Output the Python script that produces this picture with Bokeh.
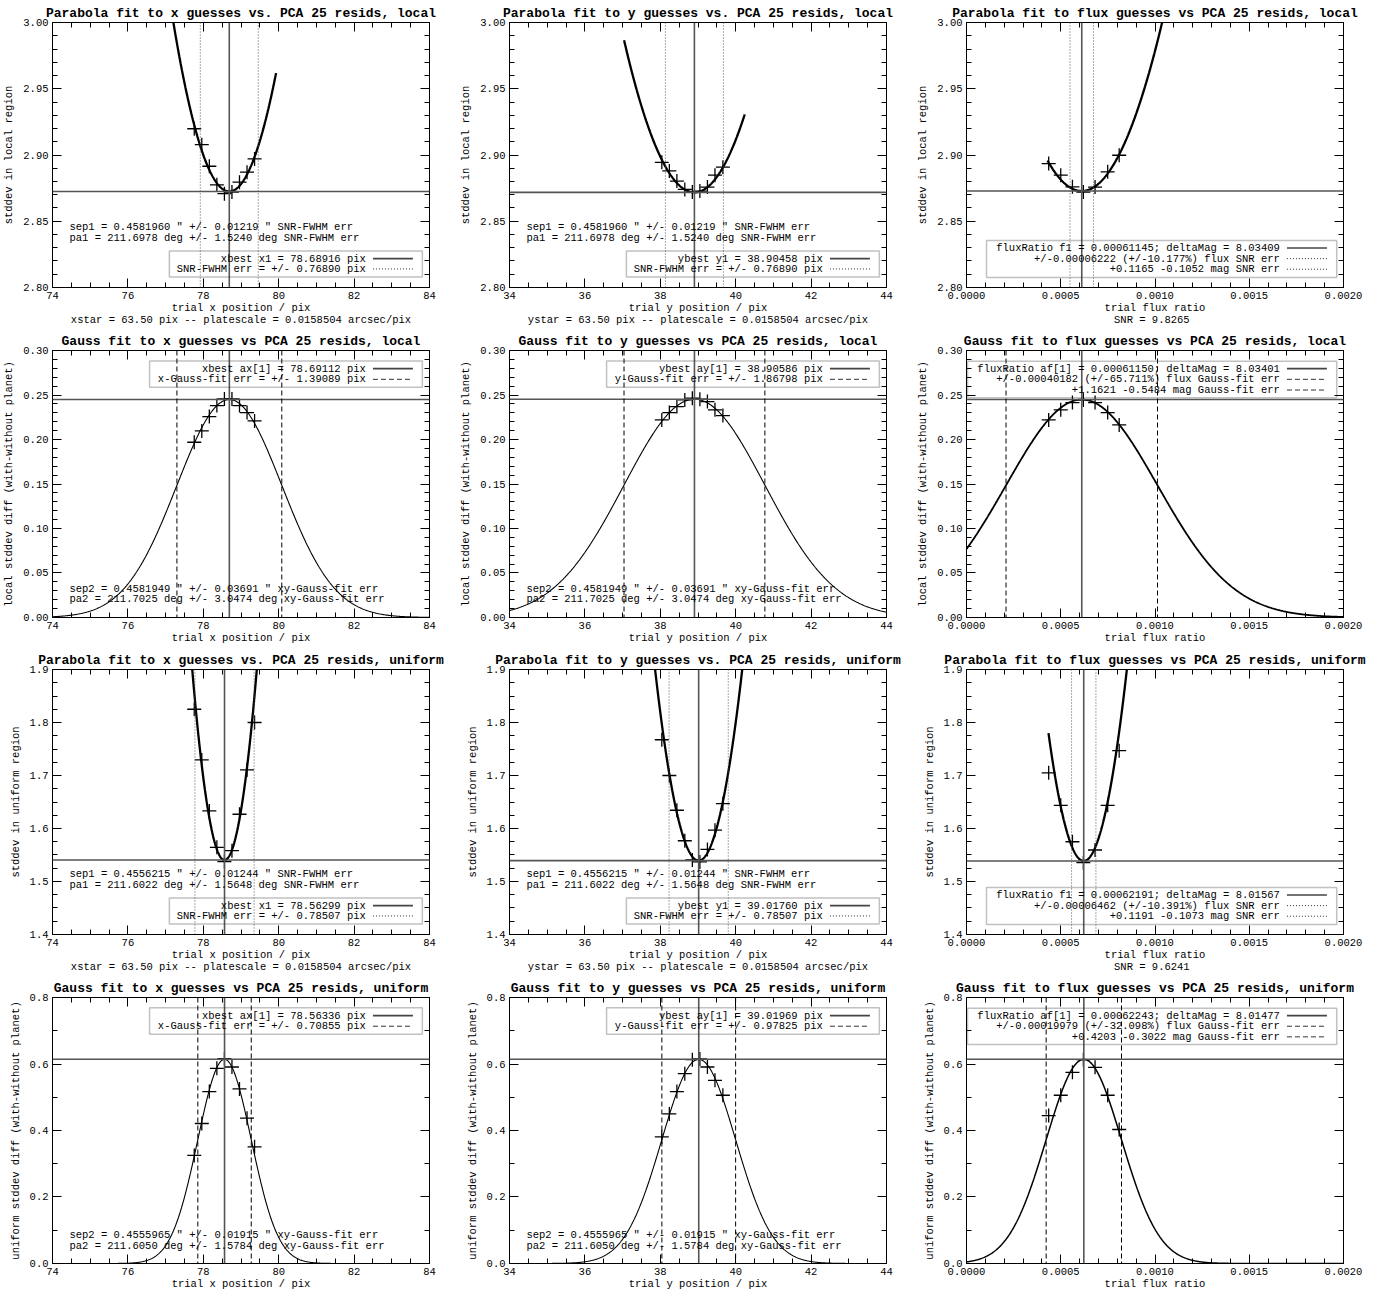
import numpy as np
from bokeh.plotting import figure
from bokeh.models import (Range1d, LinearAxis, SingleIntervalTicker, PrintfTickFormatter,
                          Span, BoxAnnotation, Label, CustomLabelingPolicy)
from bokeh.layouts import column, row
from bokeh.embed import file_html
from bokeh.resources import INLINE

FONT = "Liberation Mono"

# ---------------------------------------------------------------- trial grids
x_trials = [77.76, 77.96, 78.16, 78.36, 78.56, 78.76, 78.96, 79.16, 79.36]
y_trials = [38.04, 38.24, 38.44, 38.65, 38.85, 39.05, 39.25, 39.45, 39.66]
flux_trials = [0.000436, 0.000500, 0.000562, 0.000620, 0.000682, 0.000749, 0.000810]

# ---------------------------------------------------------------- local region
local_sd_x = [2.9198, 2.9078, 2.8915, 2.8775, 2.8708, 2.8720, 2.8795, 2.8870, 2.8970]
local_sd_y = [2.8945, 2.8880, 2.8803, 2.8740, 2.8720, 2.8728, 2.8758, 2.8848, 2.8908]
local_sd_flux = [2.8935, 2.8848, 2.8760, 2.8720, 2.8758, 2.8873, 2.8998]
local_diff_x = [0.1969, 0.2096, 0.2258, 0.2381, 0.2456, 0.2456, 0.2381, 0.2303, 0.2209]
local_diff_y = [0.2220, 0.2303, 0.2370, 0.2445, 0.2464, 0.2453, 0.2426, 0.2333, 0.2269]
local_diff_flux = [0.2220, 0.2333, 0.2415, 0.2445, 0.2415, 0.2303, 0.2164]

# ---------------------------------------------------------------- uniform region
unif_sd_x = [1.825, 1.7294, 1.6331, 1.5644, 1.5375, 1.5581, 1.6269, 1.7106, 1.800]
unif_sd_y = [1.7675, 1.700, 1.6344, 1.5769, 1.5406, 1.5369, 1.5606, 1.5969, 1.6469]
unif_sd_flux = [1.705, 1.6438, 1.575, 1.5356, 1.5594, 1.6438, 1.7469]
unif_diff_x = [0.325, 0.421, 0.517, 0.587, 0.616, 0.591, 0.525, 0.437, 0.351]
unif_diff_y = [0.381, 0.450, 0.517, 0.571, 0.613, 0.615, 0.591, 0.551, 0.506]
unif_diff_flux = [0.445, 0.506, 0.575, 0.613, 0.590, 0.506, 0.403]

# ---------------------------------------------------------------- fit results
# parabola fits: [best value, SNR error, minimum stddev, curvature, curve start, curve end]
par_local_x = [78.68916, 0.76890, 2.8725, 0.058, 77.1, 79.93]
par_local_y = [38.90458, 0.76890, 2.8718, 0.033, 37.04, 40.24]
par_local_flux = [0.00061145, 0.00006222, 2.8728, 7.0e5, 0.00043, 0.00110]
par_unif_x = [78.56299, 0.78507, 1.5406, 0.49, 77.6, 79.5]
par_unif_y = [39.01760, 0.78507, 1.5394, 0.27, 37.8, 40.3]
par_unif_flux = [0.00062191, 0.00006462, 1.5388, 6.9e6, 0.000435, 0.00090]

# gaussian fits: [centre, sigma (= quoted fit error), peak]
gau_local_x = [78.69112, 1.39089, 0.2449]
gau_local_y = [38.90586, 1.86798, 0.2453]
gau_local_flux = [0.00061150, 0.00040182, 0.2449]
gau_unif_x = [78.56336, 0.70855, 0.614]
gau_unif_y = [39.01969, 0.97825, 0.614]
gau_unif_flux = [0.00062243, 0.00019979, 0.614]

# ---------------------------------------------------------------- axis tick labels
x_pix_ticks = ["74", "76", "78", "80", "82", "84"]
y_pix_ticks = ["34", "36", "38", "40", "42", "44"]
flux_ticks = ["0.0000", "0.0005", "0.0010", "0.0015", "0.0020"]

PW = 457
# (figure height, top border, bottom border) for each row of panels
ROWS = [(328, 22, 39), (319, 22, 30), (328, 22, 39), (317, 22, 28)]

NO_LABELS = CustomLabelingPolicy(code="return []")


def style_axis(ax):
    ax.axis_line_color = "black"
    ax.major_tick_line_color = "black"
    ax.minor_tick_line_color = "black"
    ax.major_tick_in = 9
    ax.major_tick_out = 0
    ax.minor_tick_in = 5
    ax.minor_tick_out = 0
    ax.major_label_text_font = FONT
    ax.major_label_text_font_size = "10.5px"
    ax.major_label_text_color = "black"
    ax.major_label_standoff = 4
    ax.axis_label_text_font = FONT
    ax.axis_label_text_font_size = "10.5px"
    ax.axis_label_text_font_style = "normal"
    ax.axis_label_text_color = "black"
    ax.axis_label_standoff = 0


def hide_labels(ax):
    ax.major_label_text_font_size = "0px"
    ax.major_label_standoff = 0
    ax.major_label_policy = NO_LABELS


def xat(p, f):
    return p.x_range.start + f * (p.x_range.end - p.x_range.start)


def yat(p, f):
    return p.y_range.start + f * (p.y_range.end - p.y_range.start)


def text(p, fx, fy, s, align="left"):
    p.add_layout(Label(x=xat(p, fx), y=yat(p, fy), text=s, text_font=FONT,
                       text_font_size="10.5px", text_align=align,
                       text_baseline="middle", text_color="black"))


def panel(title, xlim, ylim, xstep, xminor, xfmt, ystep, yminor, yfmt,
          xlabel, ylabel, rowspec, subtitle=None):
    height, top, bottom = rowspec
    xpad = (xlim[1] - xlim[0]) * 1e-6
    ypad = (ylim[1] - ylim[0]) * 1e-6
    p = figure(width=PW, height=height, title=None,
               x_range=Range1d(xlim[0] - xpad, xlim[1] + xpad),
               y_range=Range1d(ylim[0] - ypad, ylim[1] + ypad),
               x_axis_type=None, y_axis_type=None,
               output_backend="svg", toolbar_location=None,
               min_border_left=52, min_border_right=28,
               min_border_top=top, min_border_bottom=bottom)
    p.outline_line_color = "black"
    p.border_fill_color = "white"
    p.background_fill_color = "white"
    xt = SingleIntervalTicker(interval=xstep, num_minor_ticks=xminor)
    yt = SingleIntervalTicker(interval=ystep, num_minor_ticks=yminor)

    bottom_ax = LinearAxis(ticker=xt, formatter=PrintfTickFormatter(format=xfmt), axis_label=xlabel)
    left_ax = LinearAxis(ticker=yt, formatter=PrintfTickFormatter(format=yfmt), axis_label=ylabel)
    # the top edge carries the panel title as its label
    top_ax = LinearAxis(ticker=xt, axis_label=title)
    right_ax = LinearAxis(ticker=yt)
    for ax in (bottom_ax, left_ax, top_ax, right_ax):
        style_axis(ax)
    for ax in (top_ax, right_ax):
        hide_labels(ax)
    left_ax.axis_label_standoff = 5
    top_ax.axis_label_text_font_size = "13px"
    top_ax.axis_label_text_font_style = "bold"
    top_ax.axis_label_standoff = 2
    p.add_layout(bottom_ax, "below")
    p.add_layout(left_ax, "left")
    p.add_layout(top_ax, "above")
    p.add_layout(right_ax, "right")

    if subtitle:
        # a bare second bottom axis holds the extra info line
        sub_ax = LinearAxis(ticker=xt, axis_label=subtitle)
        style_axis(sub_ax)
        hide_labels(sub_ax)
        sub_ax.axis_line_color = None
        sub_ax.major_tick_line_color = None
        sub_ax.minor_tick_line_color = None
        sub_ax.major_tick_in = 0
        sub_ax.minor_tick_in = 0
        sub_ax.axis_label_standoff = -3
        p.add_layout(sub_ax, "below")
    return p


def legend(p, box, entries, rows_y):
    l, r, b, t = box
    p.add_layout(BoxAnnotation(left=xat(p, l), right=xat(p, r), bottom=yat(p, b), top=yat(p, t),
                               fill_alpha=0, line_color="#333333", line_width=1.5))
    for (s, dash), fy in zip(entries, rows_y):
        text(p, 0.831, fy, s, "right")
        yy = yat(p, fy)
        if dash == "solid":
            p.line([xat(p, 0.85), xat(p, 0.956)], [yy, yy], line_color="#444444", line_width=1.6)
        else:
            p.line([xat(p, 0.85), xat(p, 0.956)], [yy, yy], line_color="#333333", line_width=1,
                   line_dash=dash)


DOT = "1 2"
DASH = "5 3"


def parabola_panel(p, xs, ys, fit):
    best, err, ymin, k, c0, c1 = fit
    xx = np.linspace(c0, c1, 400)
    p.line(xx, ymin + k * (xx - best) ** 2, line_color="black", line_width=2.3)
    p.add_layout(Span(location=best, dimension="height", line_color="#555555", line_width=1.6))
    p.add_layout(Span(location=ymin, dimension="width", line_color="#555555", line_width=1.6))
    for loc in (best - err, best + err):
        p.add_layout(Span(location=loc, dimension="height", line_color="#555555",
                          line_width=1, line_dash=DOT))
    p.scatter(xs, ys, marker="cross", size=14, line_color="black", line_width=1.3)


def gauss_panel(p, xs, ys, fit, width):
    cen, sig, amp = fit
    xx = np.linspace(p.x_range.start, p.x_range.end, 600)
    p.line(xx, amp * np.exp(-0.5 * ((xx - cen) / sig) ** 2), line_color="black", line_width=width)
    p.add_layout(Span(location=cen, dimension="height", line_color="#555555", line_width=1.6))
    p.add_layout(Span(location=amp, dimension="width", line_color="#555555", line_width=1.5))
    for loc in (cen - sig, cen + sig):
        p.add_layout(Span(location=loc, dimension="height", line_color="black",
                          line_width=1, line_dash=DASH))
    p.scatter(xs, ys, marker="cross", size=14, line_color="black", line_width=1.3)


def lims(ticks):
    return float(ticks[0]), float(ticks[-1])


XLIM, YLIM_PIX, FLIM = lims(x_pix_ticks), lims(y_pix_ticks), lims(flux_ticks)
XSTAR = "xstar = 63.50 pix -- platescale = 0.0158504 arcsec/pix"
YSTAR = "ystar = 63.50 pix -- platescale = 0.0158504 arcsec/pix"

PARA_BOX = (0.31, 0.981, 0.04, 0.138)
PARA_ROWS = (0.109, 0.07)
FLUXP_BOX = (0.053, 0.982, 0.038, 0.177)
FLUXP_ROWS = (0.149, 0.109, 0.069)
GAU_BOX = (0.2575, 0.981, 0.862, 0.961)
GAU_ROWS = (0.932, 0.892)
FLUXG_BOX = (0.0027, 0.982, 0.823, 0.96)
FLUXG_ROWS = (0.932, 0.892, 0.852)

# ================================================================ row 1: parabola, local
rs = ROWS[0]
yl0 = (2.80, 3.00)
pA = panel("Parabola fit to x guesses vs. PCA 25 resids, local", XLIM, yl0, 2, 4, "%.0f",
           0.05, 5, "%.2f", "trial x position / pix", "stddev in local region", rs, XSTAR)
parabola_panel(pA, x_trials, local_sd_x, par_local_x)
text(pA, 0.045, 0.2275, 'sep1 = 0.4581960 " +/- 0.01219 " SNR-FWHM err')
text(pA, 0.045, 0.1875, "pa1 = 211.6978 deg +/- 1.5240 deg SNR-FWHM err")
legend(pA, PARA_BOX, [("xbest x1 = %.5f pix" % par_local_x[0], "solid"),
                      ("SNR-FWHM err = +/- %.5f pix" % par_local_x[1], DOT)], PARA_ROWS)

pB = panel("Parabola fit to y guesses vs. PCA 25 resids, local", YLIM_PIX, yl0, 2, 4, "%.0f",
           0.05, 5, "%.2f", "trial y position / pix", "stddev in local region", rs, YSTAR)
parabola_panel(pB, y_trials, local_sd_y, par_local_y)
text(pB, 0.045, 0.2275, 'sep1 = 0.4581960 " +/- 0.01219 " SNR-FWHM err')
text(pB, 0.045, 0.1875, "pa1 = 211.6978 deg +/- 1.5240 deg SNR-FWHM err")
legend(pB, PARA_BOX, [("ybest y1 = %.5f pix" % par_local_y[0], "solid"),
                      ("SNR-FWHM err = +/- %.5f pix" % par_local_y[1], DOT)], PARA_ROWS)

pC = panel("Parabola fit to flux guesses vs PCA 25 resids, local", FLIM, yl0, 0.0005, 5, "%.4f",
           0.05, 5, "%.2f", "trial flux ratio", "stddev in local region", rs, "SNR =  9.8265")
parabola_panel(pC, flux_trials, local_sd_flux, par_local_flux)
legend(pC, FLUXP_BOX, [("fluxRatio f1 = %.8f; deltaMag = 8.03409" % par_local_flux[0], "solid"),
                       ("+/-%.8f (+/-10.177%%) flux SNR err" % par_local_flux[1], DOT),
                       ("+0.1165 -0.1052 mag SNR err", DOT)], FLUXP_ROWS)

# ================================================================ row 2: gauss, local
rs = ROWS[1]
yl1 = (0.0, 0.30)
ylab1 = "local stddev diff (with-without planet)"
pD = panel("Gauss fit to x guesses vs PCA 25 resids, local", XLIM, yl1, 2, 4, "%.0f",
           0.05, 5, "%.2f", "trial x position / pix", ylab1, rs)
gauss_panel(pD, x_trials, local_diff_x, gau_local_x, 1.1)
text(pD, 0.045, 0.1075, 'sep2 = 0.4581949 " +/- 0.03691 " xy-Gauss-fit err')
text(pD, 0.045, 0.0675, "pa2 = 211.7025 deg +/- 3.0474 deg xy-Gauss-fit err")
legend(pD, GAU_BOX, [("xbest ax[1] = %.5f pix" % gau_local_x[0], "solid"),
                     ("x-Gauss-fit err = +/- %.5f pix" % gau_local_x[1], DASH)], GAU_ROWS)

pE = panel("Gauss fit to y guesses vs PCA 25 resids, local", YLIM_PIX, yl1, 2, 4, "%.0f",
           0.05, 5, "%.2f", "trial y position / pix", ylab1, rs)
gauss_panel(pE, y_trials, local_diff_y, gau_local_y, 1.1)
text(pE, 0.045, 0.1075, 'sep2 = 0.4581949 " +/- 0.03691 " xy-Gauss-fit err')
text(pE, 0.045, 0.0675, "pa2 = 211.7025 deg +/- 3.0474 deg xy-Gauss-fit err")
legend(pE, GAU_BOX, [("ybest ay[1] = %.5f pix" % gau_local_y[0], "solid"),
                     ("y-Gauss-fit err = +/- %.5f pix" % gau_local_y[1], DASH)], GAU_ROWS)

pF = panel("Gauss fit to flux guesses vs PCA 25 resids, local", FLIM, yl1, 0.0005, 5, "%.4f",
           0.05, 5, "%.2f", "trial flux ratio", ylab1, rs)
gauss_panel(pF, flux_trials, local_diff_flux, gau_local_flux, 1.8)
legend(pF, FLUXG_BOX, [("fluxRatio af[1] = %.8f; deltaMag = 8.03401" % gau_local_flux[0], "solid"),
                       ("+/-%.8f (+/-65.711%%) flux Gauss-fit err" % gau_local_flux[1], DASH),
                       ("+1.1621 -0.5484 mag Gauss-fit err", DASH)], FLUXG_ROWS)

# ================================================================ row 3: parabola, uniform
rs = ROWS[2]
yl2 = (1.4, 1.9)
pG = panel("Parabola fit to x guesses vs. PCA 25 resids, uniform", XLIM, yl2, 2, 4, "%.0f",
           0.1, 4, "%.1f", "trial x position / pix", "stddev in uniform region", rs, XSTAR)
parabola_panel(pG, x_trials, unif_sd_x, par_unif_x)
text(pG, 0.045, 0.2275, 'sep1 = 0.4556215 " +/- 0.01244 " SNR-FWHM err')
text(pG, 0.045, 0.1875, "pa1 = 211.6022 deg +/- 1.5648 deg SNR-FWHM err")
legend(pG, PARA_BOX, [("xbest x1 = %.5f pix" % par_unif_x[0], "solid"),
                      ("SNR-FWHM err = +/- %.5f pix" % par_unif_x[1], DOT)], PARA_ROWS)

pH = panel("Parabola fit to y guesses vs. PCA 25 resids, uniform", YLIM_PIX, yl2, 2, 4, "%.0f",
           0.1, 4, "%.1f", "trial y position / pix", "stddev in uniform region", rs, YSTAR)
parabola_panel(pH, y_trials, unif_sd_y, par_unif_y)
text(pH, 0.045, 0.2275, 'sep1 = 0.4556215 " +/- 0.01244 " SNR-FWHM err')
text(pH, 0.045, 0.1875, "pa1 = 211.6022 deg +/- 1.5648 deg SNR-FWHM err")
legend(pH, PARA_BOX, [("ybest y1 = %.5f pix" % par_unif_y[0], "solid"),
                      ("SNR-FWHM err = +/- %.5f pix" % par_unif_y[1], DOT)], PARA_ROWS)

pI = panel("Parabola fit to flux guesses vs PCA 25 resids, uniform", FLIM, yl2, 0.0005, 5, "%.4f",
           0.1, 4, "%.1f", "trial flux ratio", "stddev in uniform region", rs, "SNR =  9.6241")
parabola_panel(pI, flux_trials, unif_sd_flux, par_unif_flux)
legend(pI, FLUXP_BOX, [("fluxRatio f1 = %.8f; deltaMag = 8.01567" % par_unif_flux[0], "solid"),
                       ("+/-%.8f (+/-10.391%%) flux SNR err" % par_unif_flux[1], DOT),
                       ("+0.1191 -0.1073 mag SNR err", DOT)], FLUXP_ROWS)

# ================================================================ row 4: gauss, uniform
rs = ROWS[3]
yl3 = (0.0, 0.8)
ylab3 = "uniform stddev diff (with-without planet)"
pJ = panel("Gauss fit to x guesses vs PCA 25 resids, uniform", XLIM, yl3, 2, 4, "%.0f",
           0.2, 2, "%.1f", "trial x position / pix", ylab3, rs)
gauss_panel(pJ, x_trials, unif_diff_x, gau_unif_x, 1.1)
text(pJ, 0.045, 0.1075, 'sep2 = 0.4555965 " +/- 0.01915 " xy-Gauss-fit err')
text(pJ, 0.045, 0.0675, "pa2 = 211.6050 deg +/- 1.5784 deg xy-Gauss-fit err")
legend(pJ, GAU_BOX, [("xbest ax[1] = %.5f pix" % gau_unif_x[0], "solid"),
                     ("x-Gauss-fit err = +/- %.5f pix" % gau_unif_x[1], DASH)], GAU_ROWS)

pK = panel("Gauss fit to y guesses vs PCA 25 resids, uniform", YLIM_PIX, yl3, 2, 4, "%.0f",
           0.2, 2, "%.1f", "trial y position / pix", ylab3, rs)
gauss_panel(pK, y_trials, unif_diff_y, gau_unif_y, 1.1)
text(pK, 0.045, 0.1075, 'sep2 = 0.4555965 " +/- 0.01915 " xy-Gauss-fit err')
text(pK, 0.045, 0.0675, "pa2 = 211.6050 deg +/- 1.5784 deg xy-Gauss-fit err")
legend(pK, GAU_BOX, [("ybest ay[1] = %.5f pix" % gau_unif_y[0], "solid"),
                     ("y-Gauss-fit err = +/- %.5f pix" % gau_unif_y[1], DASH)], GAU_ROWS)

pL = panel("Gauss fit to flux guesses vs PCA 25 resids, uniform", FLIM, yl3, 0.0005, 5, "%.4f",
           0.2, 2, "%.1f", "trial flux ratio", ylab3, rs)
gauss_panel(pL, flux_trials, unif_diff_flux, gau_unif_flux, 1.5)
legend(pL, FLUXG_BOX, [("fluxRatio af[1] = %.8f; deltaMag = 8.01477" % gau_unif_flux[0], "solid"),
                       ("+/-%.8f (+/-32.098%%) flux Gauss-fit err" % gau_unif_flux[1], DASH),
                       ("+0.4203 -0.3022 mag Gauss-fit err", DASH)], FLUXG_ROWS)

layout = column(row(pA, pB, pC), row(pD, pE, pF), row(pG, pH, pI), row(pJ, pK, pL))

with open("out.html", "w") as fh:
    fh.write(file_html(layout, INLINE, title="PCA 25 fit diagnostics"))
